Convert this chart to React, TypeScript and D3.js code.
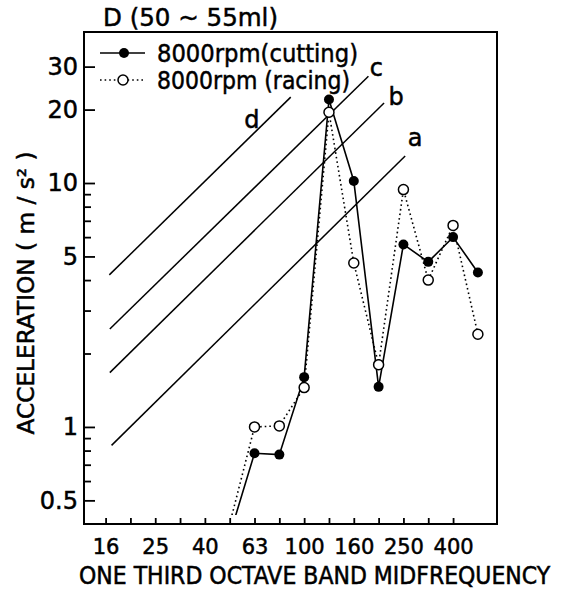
import React, { useEffect, useRef } from "react"
import * as d3 from "d3"

// one third octave band midfrequencies (Hz)
const bands = ["16", "20", "25", "31.5", "40", "50", "63", "80", "100", "125", "160", "200", "250", "315", "400", "500"]
const labeledBands = ["16", "25", "40", "63", "100", "160", "250", "400"]

// acceleration (m/s²) per band, null = no reading
const cutting = [null, null, null, null, null, 0.36, 0.78, 0.77, 1.6, 22, 10.2, 1.46, 5.6, 4.75, 6.0, 4.3]
const racing = [null, null, null, null, null, 0.4, 1.0, 1.01, 1.45, 19.5, 4.7, 1.8, 9.4, 4.0, 6.7, 2.4]

const majorTicks = [0.5, 1, 5, 10, 20, 30]
const minorTicks = [0.6, 0.7, 0.8, 0.9, 2, 3, 4, 6, 7, 8, 9]

// constant-velocity guide lines: [band position, m/s²] at each end
const guideNames = ["a", "b", "c", "d"]
const guideStart = [[0.24, 0.84], [0.17, 1.67], [0.17, 2.52], [0.15, 4.2]]
const guideEnd = [[12.07, 12.9], [11.22, 21.3], [10.59, 27.4], [7.46, 22.5]]
const guideLabelOffset = [[10, -10], [12, 2], [8, 0], [-39, 31]]

const FONT = "'DejaVu Sans', 'Liberation Sans', sans-serif"

export default function App() {
    const svgRef = useRef<SVGSVGElement>(null)

    useEffect(() => {
        const width = 565
        const height = 590
        const left = 84, right = 497, top = 32, bottom = 524

        const svg = d3.select(svgRef.current)
            .attr("width", width)
            .attr("height", height)
        svg.selectAll("*").remove()

        svg.append("rect")
            .attr("width", width).attr("height", height)
            .attr("fill", "white")

        const x = d3.scaleLinear().domain([-0.87, 15.77]).range([left, right])
        const y = d3.scaleLog().domain([0.4, 41.6]).range([bottom, top])

        // axes (ticks pointing inward)
        const yMinor = d3.axisLeft(y).tickValues(minorTicks).tickSize(-7).tickFormat(() => "")
        const yMajor = d3.axisLeft(y).tickValues(majorTicks).tickSize(-11).tickPadding(6)
            .tickFormat(d => String(d))
        const xAxis = d3.axisBottom(x)
            .tickValues(d3.range(0, 15))
            .tickSize(-6)
            .tickPadding(15)
            .tickFormat(i => labeledBands.includes(bands[+i]) ? bands[+i] : "")

        const gyMinor = svg.append("g").attr("transform", `translate(${left},0)`).call(yMinor)
        const gyMajor = svg.append("g").attr("transform", `translate(${left},0)`).call(yMajor)
        const gx = svg.append("g").attr("transform", `translate(0,${bottom})`).call(xAxis)

        for (const g of [gyMinor, gyMajor, gx]) {
            g.select(".domain").remove()
            g.selectAll("line").attr("stroke", "black").attr("stroke-width", 1.8)
            g.selectAll("text").attr("fill", "black")
                .style("font-family", FONT).style("stroke", "black").style("stroke-width", 0.5)
        }
        gyMajor.selectAll("text").style("font-size", "24px")
        gx.selectAll("text").style("font-size", "21px")

        // frame
        svg.append("rect")
            .attr("x", left).attr("y", top)
            .attr("width", right - left).attr("height", bottom - top)
            .attr("fill", "none").attr("stroke", "black").attr("stroke-width", 2)

        // guide lines a-d
        const guideLine = d3.line<number[]>().x(d => x(d[0])).y(d => y(d[1]))
        guideNames.forEach((name, k) => {
            svg.append("path")
                .attr("d", guideLine([guideStart[k], guideEnd[k]]))
                .attr("fill", "none").attr("stroke", "black").attr("stroke-width", 1.5)
            svg.append("text")
                .attr("x", x(guideEnd[k][0]) + guideLabelOffset[k][0])
                .attr("y", y(guideEnd[k][1]) + guideLabelOffset[k][1])
                .attr("text-anchor", "middle")
                .style("font-family", FONT).style("font-size", "24px")
                .style("stroke", "black").style("stroke-width", 0.5)
                .text(name)
        })

        // clip so the series run off just above the bottom axis
        svg.append("clipPath").attr("id", "plotClip")
            .append("rect")
            .attr("x", left).attr("y", top)
            .attr("width", right - left).attr("height", y(0.435) - top)

        const seriesLine = d3.line<number | null>()
            .defined(d => d != null)
            .x((d, i) => x(i))
            .y(d => y(d as number))

        svg.append("path")
            .attr("d", seriesLine(racing))
            .attr("clip-path", "url(#plotClip)")
            .attr("fill", "none").attr("stroke", "black")
            .attr("stroke-width", 1.6).attr("stroke-dasharray", "1.6 3")

        svg.append("path")
            .attr("d", seriesLine(cutting))
            .attr("clip-path", "url(#plotClip)")
            .attr("fill", "none").attr("stroke", "black").attr("stroke-width", 1.6)

        const inRange = (d: number | null) => d != null && d >= 0.45

        svg.selectAll(".cut")
            .data(cutting.map((v, i) => ({ v, i })).filter(d => inRange(d.v)))
            .join("circle")
            .attr("cx", d => x(d.i)).attr("cy", d => y(d.v as number))
            .attr("r", 5).attr("fill", "black")

        svg.selectAll(".race")
            .data(racing.map((v, i) => ({ v, i })).filter(d => inRange(d.v)))
            .join("circle")
            .attr("cx", d => x(d.i)).attr("cy", d => y(d.v as number))
            .attr("r", 5).attr("fill", "white").attr("stroke", "black").attr("stroke-width", 1.5)

        // legend
        svg.append("line").attr("x1", 100).attr("x2", 145).attr("y1", 53).attr("y2", 53)
            .attr("stroke", "black").attr("stroke-width", 1.6)
        svg.append("circle").attr("cx", 124).attr("cy", 53).attr("r", 5).attr("fill", "black")
        svg.append("line").attr("x1", 100).attr("x2", 145).attr("y1", 80).attr("y2", 80)
            .attr("stroke", "black").attr("stroke-width", 1.6).attr("stroke-dasharray", "1.6 3")
        svg.append("circle").attr("cx", 123).attr("cy", 80).attr("r", 5)
            .attr("fill", "white").attr("stroke", "black").attr("stroke-width", 1.5)

        const addText = (txt: string, tx: number, ty: number, size: number, len: number) =>
            svg.append("text")
                .attr("x", tx).attr("y", ty)
                .attr("textLength", len).attr("lengthAdjust", "spacingAndGlyphs")
                .style("font-family", FONT).style("font-size", `${size}px`)
                .style("stroke", "black").style("stroke-width", 0.5)
                .text(txt)

        addText("8000rpm(cutting)", 157, 62, 24, 201)
        addText("8000rpm (racing)", 157, 89, 24, 193)
        addText("D (50  ~  55ml)", 103, 26, 25, 175)

        // x title: natural width fits, stretched vertically to the reference letter height
        svg.append("text")
            .attr("transform", "translate(79,584) scale(1,1.13)")
            .style("font-family", FONT).style("font-size", "22px")
            .style("stroke", "black").style("stroke-width", 0.5)
            .text("ONE THIRD OCTAVE BAND MIDFREQUENCY")

        svg.append("text")
            .attr("transform", "translate(34,293) rotate(-90)")
            .attr("text-anchor", "middle")
            .attr("textLength", 283).attr("lengthAdjust", "spacingAndGlyphs")
            .style("font-family", FONT).style("font-size", "23px")
            .style("stroke", "black").style("stroke-width", 0.5)
            .text("ACCELERATION  ( m / s² )")
    }, [])

    return (
        <svg ref={svgRef} style={{ position: "absolute", left: 0, top: 0 }}></svg>
    )
}
